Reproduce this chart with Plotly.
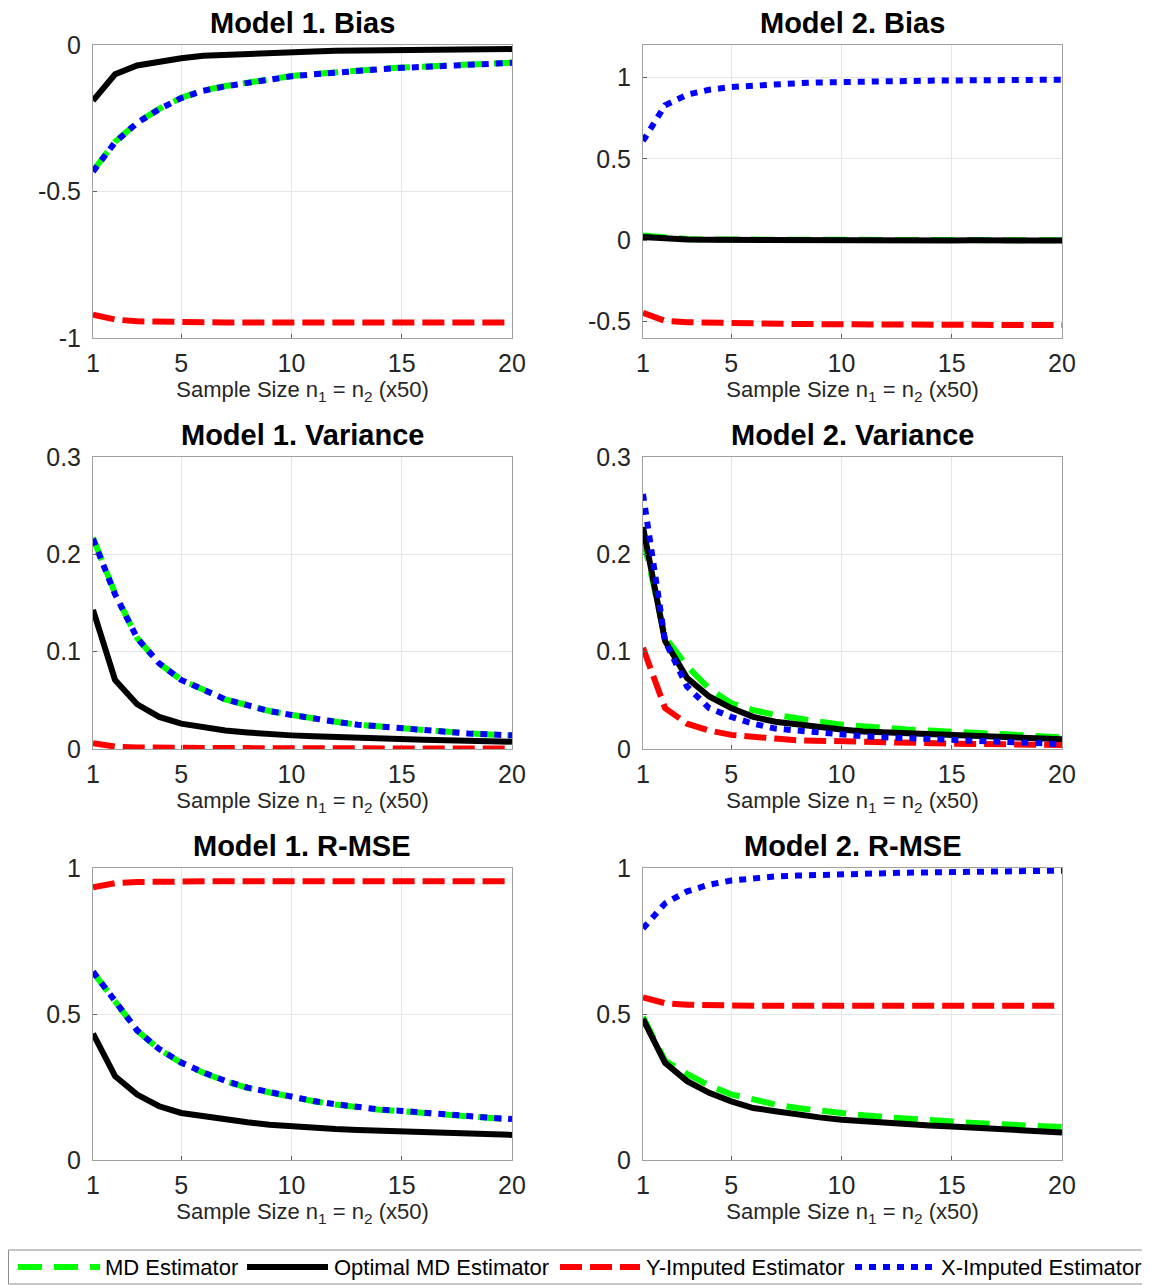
import plotly.graph_objects as go

x_vals = list(range(1, 21))

# Model 1 Bias
m1_bias_md = [-0.43, -0.33, -0.265, -0.218, -0.18, -0.155, -0.14, -0.127, -0.115, -0.106,
              -0.099, -0.092, -0.087, -0.082, -0.077, -0.073, -0.07, -0.066, -0.063, -0.06]
m1_bias_opt = [-0.19, -0.10, -0.07, -0.055, -0.045, -0.037, -0.033, -0.03, -0.027, -0.025,
               -0.022, -0.02, -0.019, -0.018, -0.017, -0.016, -0.015, -0.015, -0.014, -0.014]
m1_bias_y = [-0.92, -0.937, -0.943, -0.945, -0.946, -0.946, -0.947, -0.947, -0.947, -0.947,
             -0.947, -0.947, -0.947, -0.947, -0.947, -0.947, -0.947, -0.947, -0.947, -0.947]
m1_bias_x = [-0.432, -0.332, -0.266, -0.219, -0.181, -0.156, -0.141, -0.128, -0.116, -0.107,
             -0.1, -0.093, -0.088, -0.083, -0.078, -0.074, -0.071, -0.067, -0.064, -0.061]

# Model 2 Bias
m2_bias_md = [0.03, 0.015, 0.008, 0.005, 0.004, 0.003, 0.003, 0.002, 0.002, 0.001,
              0.002, 0.002, 0.001, 0.001, 0.001, 0.001, 0.001, 0.001, 0.001, 0.001]
m2_bias_opt = [0.02, 0.01, 0.005, 0.003, 0.002, 0.001, 0.001, 0.0, 0.0, -0.002,
               0.0, 0.0, 0.0, -0.001, -0.001, 0.0, -0.001, -0.001, -0.001, -0.001]
m2_bias_y = [-0.446, -0.495, -0.503, -0.507, -0.509, -0.511, -0.513, -0.514, -0.515, -0.517,
             -0.516, -0.517, -0.517, -0.518, -0.519, -0.519, -0.52, -0.52, -0.52, -0.521]
m2_bias_x = [0.61, 0.83, 0.895, 0.925, 0.942, 0.952, 0.96, 0.965, 0.97, 0.974,
             0.976, 0.978, 0.98, 0.981, 0.982, 0.983, 0.984, 0.985, 0.986, 0.987]

# Model 1 Variance
m1_var_md = [0.217, 0.160, 0.114, 0.088, 0.071, 0.061, 0.051, 0.045, 0.039, 0.035,
             0.031, 0.028, 0.025, 0.023, 0.021, 0.019, 0.018, 0.016, 0.015, 0.014]
m1_var_opt = [0.143, 0.071, 0.046, 0.033, 0.026, 0.022, 0.019, 0.017, 0.015, 0.014,
              0.013, 0.012, 0.011, 0.0105, 0.010, 0.0095, 0.009, 0.0085, 0.008, 0.0075]
m1_var_y = [0.006, 0.0025, 0.0015, 0.0012, 0.001, 0.001, 0.0009, 0.0008, 0.0008, 0.0007,
            0.0007, 0.0006, 0.0006, 0.0006, 0.0006, 0.0005, 0.0005, 0.0005, 0.0005, 0.0005]
m1_var_x = [0.216, 0.159, 0.114, 0.088, 0.071, 0.061, 0.051, 0.045, 0.039, 0.035,
            0.031, 0.028, 0.025, 0.023, 0.021, 0.019, 0.018, 0.016, 0.015, 0.014]

# Model 2 Variance
m2_var_md = [0.218, 0.115, 0.085, 0.062, 0.047, 0.040, 0.035, 0.031, 0.028, 0.025,
             0.023, 0.022, 0.020, 0.019, 0.018, 0.016, 0.015, 0.0145, 0.013, 0.012]
m2_var_opt = [0.228, 0.111, 0.073, 0.054, 0.042, 0.033, 0.028, 0.025, 0.022, 0.020,
              0.018, 0.017, 0.016, 0.015, 0.014, 0.013, 0.012, 0.0115, 0.011, 0.010]
m2_var_y = [0.104, 0.042, 0.026, 0.019, 0.0145, 0.012, 0.0107, 0.009, 0.0083, 0.0076,
            0.007, 0.0065, 0.0062, 0.0058, 0.0055, 0.0052, 0.005, 0.0046, 0.0043, 0.004]
m2_var_x = [0.262, 0.111, 0.064, 0.042, 0.033, 0.026, 0.021, 0.019, 0.016, 0.014,
            0.013, 0.012, 0.011, 0.010, 0.009, 0.0085, 0.0075, 0.0065, 0.006, 0.005]

# Model 1 R-MSE
m1_rmse_md = [0.644, 0.546, 0.443, 0.379, 0.333, 0.299, 0.270, 0.247, 0.230, 0.216,
              0.201, 0.190, 0.180, 0.172, 0.167, 0.160, 0.153, 0.148, 0.144, 0.139]
m1_rmse_opt = [0.433, 0.287, 0.224, 0.184, 0.161, 0.149, 0.138, 0.129, 0.121, 0.115,
               0.110, 0.106, 0.103, 0.100, 0.098, 0.096, 0.093, 0.091, 0.089, 0.086]
m1_rmse_y = [0.934, 0.948, 0.952, 0.954, 0.955, 0.955, 0.955, 0.955, 0.955, 0.955,
             0.955, 0.955, 0.955, 0.955, 0.955, 0.955, 0.955, 0.955, 0.955, 0.955]
m1_rmse_x = [0.645, 0.547, 0.444, 0.380, 0.334, 0.300, 0.271, 0.248, 0.231, 0.217,
             0.202, 0.191, 0.181, 0.173, 0.168, 0.161, 0.154, 0.149, 0.145, 0.140]

# Model 2 R-MSE
m2_rmse_md = [0.49, 0.34, 0.295, 0.255, 0.225, 0.205, 0.19, 0.178, 0.168, 0.16,
              0.153, 0.147, 0.141, 0.136, 0.131, 0.127, 0.123, 0.119, 0.116, 0.113]
m2_rmse_opt = [0.483, 0.333, 0.27, 0.23, 0.201, 0.178, 0.167, 0.155, 0.146, 0.138,
               0.132, 0.126, 0.122, 0.118, 0.115, 0.110, 0.106, 0.102, 0.098, 0.094]
m2_rmse_y = [0.557, 0.537, 0.532, 0.529, 0.529, 0.528, 0.528, 0.528, 0.528, 0.528,
             0.528, 0.528, 0.528, 0.528, 0.528, 0.528, 0.528, 0.528, 0.528, 0.528]
m2_rmse_x = [0.793, 0.879, 0.92, 0.943, 0.957, 0.965, 0.971, 0.974, 0.977, 0.98,
             0.981, 0.983, 0.984, 0.985, 0.986, 0.987, 0.988, 0.989, 0.99, 0.991]

series_names = ["MD Estimator", "Optimal MD Estimator", "Y-Imputed Estimator", "X-Imputed Estimator"]
panel_titles = ["Model 1. Bias", "Model 2. Bias", "Model 1. Variance",
                "Model 2. Variance", "Model 1. R-MSE", "Model 2. R-MSE"]
x_tickvals = [1, 5, 10, 15, 20]
x_ticktext = ["1", "5", "10", "15", "20"]
x_title = "Sample Size n<sub>1</sub> = n<sub>2</sub> (x50)"

y_ranges = [[-1, 0], [-0.6, 1.2], [0, 0.3], [0, 0.3], [0, 1], [0, 1]]
y_tickvals = [[-1, -0.5, 0], [-0.5, 0, 0.5, 1], [0, 0.1, 0.2, 0.3], [0, 0.1, 0.2, 0.3],
              [0, 0.5, 1], [0, 0.5, 1]]
y_ticktext = [["-1", "-0.5", "0"], ["-0.5", "0", "0.5", "1"], ["0", "0.1", "0.2", "0.3"],
              ["0", "0.1", "0.2", "0.3"], ["0", "0.5", "1"], ["0", "0.5", "1"]]

panels = [
    [m1_bias_md, m1_bias_opt, m1_bias_y, m1_bias_x],
    [m2_bias_md, m2_bias_opt, m2_bias_y, m2_bias_x],
    [m1_var_md, m1_var_opt, m1_var_y, m1_var_x],
    [m2_var_md, m2_var_opt, m2_var_y, m2_var_x],
    [m1_rmse_md, m1_rmse_opt, m1_rmse_y, m1_rmse_x],
    [m2_rmse_md, m2_rmse_opt, m2_rmse_y, m2_rmse_x],
]

colors = ["#00ff00", "#000000", "#ff0000", "#0000ff"]
dashes = ["24px,12px", "solid", "22px,8px", "7px,7px"]
widths = [6, 6, 6, 6]

# The page body adds an 8px margin, so the figure is laid out in page pixels minus 8
OFF = 8
W, H = 1150 - OFF, 1285 - OFF
col_px = [(93, 512), (643, 1062)]
row_px = [(45, 338), (457, 749), (868, 1160)]


def px_x(p):
    return (p - OFF) / W


def px_y(p):
    return 1 - (p - OFF) / H


fig = go.Figure()
layout = dict(
    width=W, height=H,
    margin=dict(l=0, r=0, t=0, b=0, autoexpand=False),
    paper_bgcolor="white", plot_bgcolor="white",
    font=dict(family="Liberation Sans, Arial, sans-serif", color="#262626"),
    showlegend=False,
)
annotations = []
shapes = []
for i in range(6):
    r, c = divmod(i, 2)
    xa = "xaxis" if i == 0 else f"xaxis{i+1}"
    ya = "yaxis" if i == 0 else f"yaxis{i+1}"
    xref = "x" if i == 0 else f"x{i+1}"
    yref = "y" if i == 0 else f"y{i+1}"
    x0, x1 = col_px[c]
    y0, y1 = row_px[r]
    dx = [px_x(x0), px_x(x1)]
    dy = [px_y(y1), px_y(y0)]
    layout[xa] = dict(
        domain=dx, anchor=yref, range=[1, 20], automargin=False,
        tickvals=x_tickvals, ticktext=x_ticktext,
        showgrid=True, gridcolor="#e6e6e6", gridwidth=1,
        showline=True, linecolor="#a0a0a0", linewidth=1, mirror=True,
        ticks="inside", ticklen=4, tickcolor="#606060",
        tickfont=dict(size=25, color="#262626"),
        ticklabelstandoff=3,
        zeroline=False,
        title=dict(text=x_title, font=dict(size=22, color="#262626"), standoff=3),
    )
    layout[ya] = dict(
        domain=dy, anchor=xref, range=y_ranges[i], automargin=False,
        tickvals=y_tickvals[i], ticktext=y_ticktext[i],
        showgrid=True, gridcolor="#e6e6e6", gridwidth=1,
        showline=True, linecolor="#a0a0a0", linewidth=1, mirror=True,
        ticks="inside", ticklen=4, tickcolor="#606060",
        tickfont=dict(size=25, color="#262626"),
        ticklabelstandoff=6,
        zeroline=False,
    )
    annotations.append(dict(
        text=f"<b>{panel_titles[i]}</b>", x=(dx[0] + dx[1]) / 2, y=px_y(y0 - 22),
        xref="paper", yref="paper", xanchor="center", yanchor="middle",
        showarrow=False, font=dict(size=29, color="#000000"),
    ))
    for k in range(4):
        fig.add_trace(go.Scatter(
            x=x_vals, y=panels[i][k], mode="lines", name=series_names[k],
            line=dict(color=colors[k], width=widths[k], dash=dashes[k]),
            xaxis=xref, yaxis=yref, showlegend=False,
        ))

# Legend box drawn in page pixels
leg_box = (8, 1250, 1146, 1284)
leg_line_x = [(18, 100), (247, 328), (560, 640), (855, 936)]
leg_text_x = [103, 332, 644, 939]
leg_y = 1267
shapes.append(dict(
    type="rect", xref="paper", yref="paper",
    x0=px_x(leg_box[0]) + 0.5 / W, x1=px_x(leg_box[2]), y0=px_y(leg_box[3]), y1=px_y(leg_box[1]),
    line=dict(color="#8c8c8c", width=1), fillcolor="white", layer="below",
))
for k in range(4):
    shapes.append(dict(
        type="line", xref="paper", yref="paper",
        x0=px_x(leg_line_x[k][0]), x1=px_x(leg_line_x[k][1]),
        y0=px_y(leg_y), y1=px_y(leg_y),
        line=dict(color=colors[k], width=widths[k], dash=dashes[k]),
    ))
    annotations.append(dict(
        text=series_names[k], x=px_x(leg_text_x[k]), y=px_y(leg_y),
        xref="paper", yref="paper", xanchor="left", yanchor="middle",
        showarrow=False, font=dict(size=22, color="#000000"),
    ))

layout["annotations"] = annotations
layout["shapes"] = shapes
fig.update_layout(**layout)
fig.write_html("out.html")
